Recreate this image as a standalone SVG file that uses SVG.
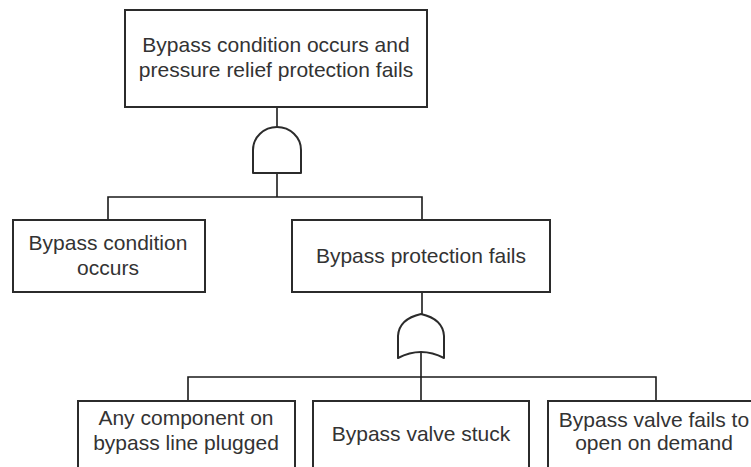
<svg xmlns="http://www.w3.org/2000/svg" width="751" height="467" viewBox="0 0 751 467">
  <style>
    .box { fill: #ffffff; stroke: #2b2b2b; stroke-width: 2; }
    .gate { fill: #ffffff; stroke: #2b2b2b; stroke-width: 2; stroke-linejoin: round; }
    .wire { fill: none; stroke: #1a1a1a; stroke-width: 1.6; }
    .label { font-family: "Liberation Sans", Arial, sans-serif; font-size: 21px; fill: #333333; text-anchor: middle; }
  </style>
  <rect width="751" height="467" fill="#ffffff"/>

  <!-- connectors -->
  <g id="connectors">
    <path class="wire" d="M277,107 V127"/>
    <path class="wire" d="M277,173 V197"/>
    <path class="wire" d="M108,220 V197 H422 V220"/>
    <path class="wire" d="M422,292 V314"/>
    <path class="wire" d="M421,352 V401"/>
    <path class="wire" d="M188,401 V377 H656 V401"/>
  </g>

  <!-- top event -->
  <g id="top-event">
    <rect class="box" x="125" y="10" width="302" height="97"/>
    <text class="label" x="276" y="52">Bypass condition occurs and</text>
    <text class="label" x="276" y="77">pressure relief protection fails</text>
  </g>

  <!-- AND gate -->
  <g id="and-gate">
    <path class="gate" d="M253,173 V150 A24,23 0 0 1 301,150 V173 Z"/>
  </g>

  <g id="bypass-condition">
    <rect class="box" x="13" y="220" width="192" height="72"/>
    <text class="label" x="108" y="250">Bypass condition</text>
    <text class="label" x="108" y="275">occurs</text>
  </g>

  <g id="bypass-protection">
    <rect class="box" x="292" y="220" width="258" height="72"/>
    <text class="label" x="421" y="263">Bypass protection fails</text>
  </g>

  <!-- OR gate -->
  <g id="or-gate">
    <path class="gate" d="M398,358 V336 Q399,319 421,314 Q443,319 444,336 V358 Q421,346 398,358 Z"/>
  </g>

  <g id="line-plugged">
    <rect class="box" x="78" y="401" width="217" height="80"/>
    <text class="label" x="186" y="425">Any component on</text>
    <text class="label" x="186" y="450">bypass line plugged</text>
  </g>

  <g id="valve-stuck">
    <rect class="box" x="313" y="401" width="216" height="80"/>
    <text class="label" x="421" y="441">Bypass valve stuck</text>
  </g>

  <g id="valve-fails-open">
    <rect class="box" x="548" y="401" width="217" height="80"/>
    <text class="label" x="654" y="427">Bypass valve fails to</text>
    <text class="label" x="654" y="450">open on demand</text>
  </g>
</svg>
